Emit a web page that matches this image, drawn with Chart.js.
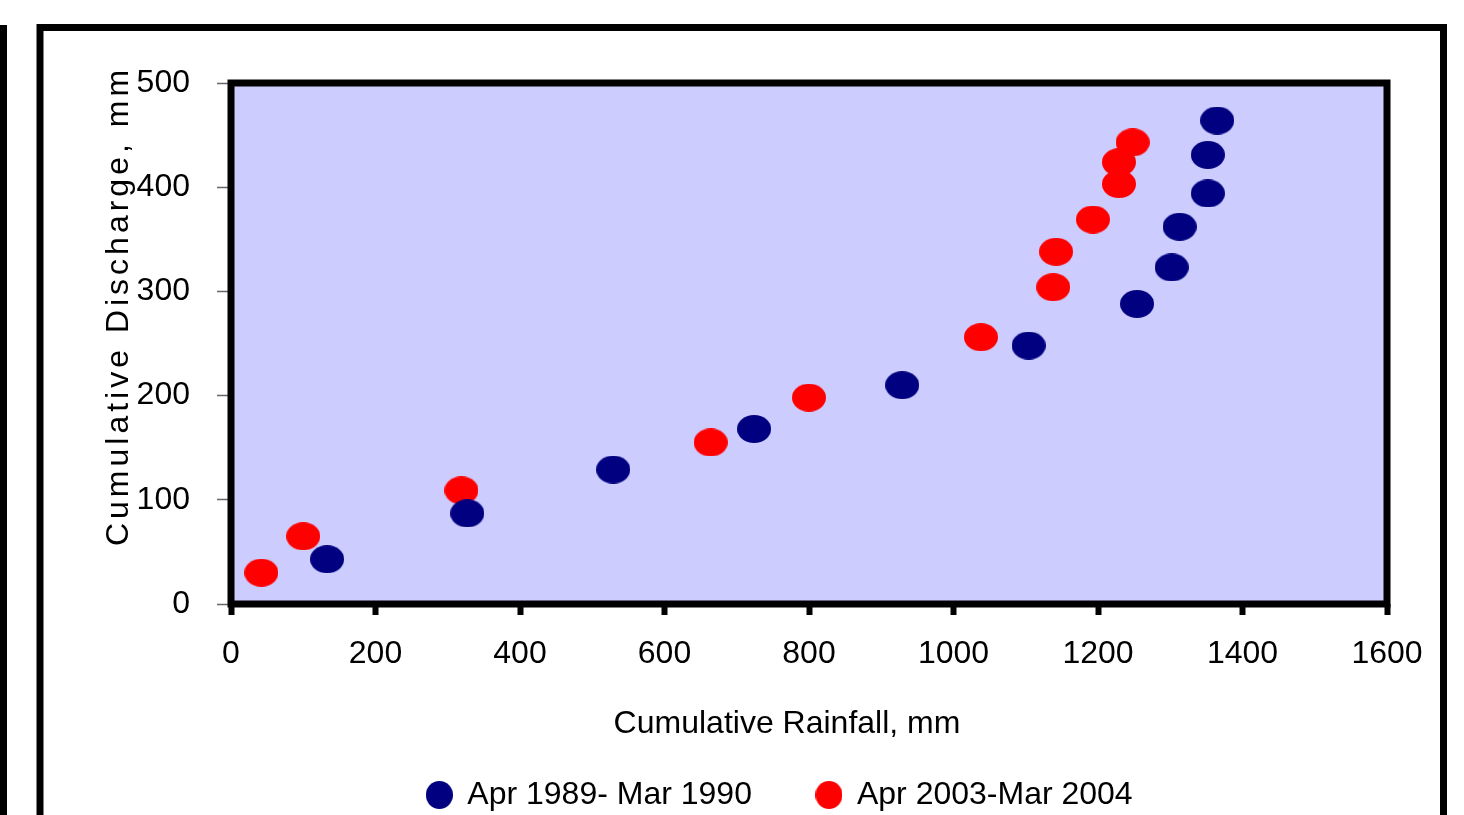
<!DOCTYPE html>
<html>
<head>
<meta charset="utf-8">
<script src="https://cdn.jsdelivr.net/npm/chart.js"></script>
<style>
  html, body { margin: 0; padding: 0; background: #fff; }
  #wrap { width: 1464px; height: 815px; }
</style>
</head>
<body>
<div id="wrap"><canvas id="rainChart" width="1464" height="815"></canvas></div>
<script>
    // values
    const seriesNames = ['Apr 1989- Mar 1990', 'Apr 2003-Mar 2004'];
    const rain1989 = [133, 327, 529, 724, 929, 1104, 1254, 1302, 1313, 1352, 1352, 1365];
    const flow1989 = [43, 87, 129, 168, 210, 248, 288, 323, 362, 394, 431, 464];
    const rain2003 = [42, 100, 319, 664, 800, 1038, 1138, 1142, 1193, 1229, 1229, 1248];
    const flow2003 = [30, 65, 109, 155, 198, 256, 304, 338, 369, 403, 424, 443];
    const xTitle = 'Cumulative Rainfall, mm';
    const yTitle = 'Cumulative Discharge, mm';

    const NAVY = '#000080';
    const RED = '#ff0000';
    const FONT = '"Liberation Sans", Arial, sans-serif';

    function ellipse(color, w, h) {
        let c = document.createElement('canvas');
        c.width = w;
        c.height = h;
        let g = c.getContext('2d');
        g.fillStyle = color;
        g.beginPath();
        g.ellipse(w / 2, h / 2, w / 2, h / 2, 0, 0, Math.PI * 2);
        g.fill();
        return c;
    }

    const dotNavy = ellipse(NAVY, 34, 28);
    const dotRed = ellipse(RED, 34, 28);
    const keyNavy = ellipse(NAVY, 27, 28);
    const keyRed = ellipse(RED, 27, 28);

    function toPoints(xs, ys) {
        return xs.map((x, i) => ({ x: x, y: ys[i] }));
    }

    // page frames, plot background, box border and the two axis titles
    const decor = {
        id: 'decor',
        beforeDraw(chart) {
            let ctx = chart.ctx;
            let a = chart.chartArea;
            ctx.save();
            ctx.fillStyle = '#000';
            ctx.fillRect(0, 25, 7, 800);
            ctx.lineWidth = 7;
            ctx.strokeStyle = '#000';
            ctx.strokeRect(40, 27.5, 1403.5, 900);
            ctx.fillStyle = '#ccccff';
            ctx.fillRect(a.left, a.top, a.right - a.left, a.bottom - a.top);
            ctx.restore();
        },
        afterDraw(chart) {
            let ctx = chart.ctx;
            let a = chart.chartArea;
            ctx.save();
            ctx.lineWidth = 7;
            ctx.strokeStyle = '#000';
            ctx.strokeRect(a.left, a.top, a.right - a.left, a.bottom - a.top);

            ctx.fillStyle = '#000';
            ctx.font = '32px ' + FONT;
            ctx.textAlign = 'center';
            ctx.textBaseline = 'middle';
            ctx.fillText(xTitle, 787, 724);

            ctx.translate(119, 306);
            ctx.rotate(-Math.PI / 2);
            ctx.letterSpacing = '4px';
            ctx.fillText(yTitle, 0, 0);
            ctx.restore();
        }
    };

    const config = {
        type: 'scatter',
        data: {
            datasets: [{
                label: seriesNames[0],
                data: toPoints(rain1989, flow1989),
                pointStyle: dotNavy,
                backgroundColor: NAVY,
                borderColor: NAVY
            },
            {
                label: seriesNames[1],
                data: toPoints(rain2003, flow2003),
                pointStyle: dotRed,
                backgroundColor: RED,
                borderColor: RED
            }]
        },
        options: {
            responsive: false,
            animation: false,
            events: [],
            layout: {
                padding: { left: 131, right: 35, top: 83, bottom: 0 }
            },
            scales: {
                x: {
                    type: 'linear',
                    min: 0,
                    max: 1600,
                    ticks: {
                        stepSize: 200,
                        padding: 20,
                        color: '#000',
                        font: { family: FONT, size: 32 },
                        callback: (v) => String(v)
                    },
                    grid: {
                        drawOnChartArea: false,
                        tickLength: 11,
                        tickWidth: 6,
                        tickColor: '#000'
                    },
                    border: { display: false },
                    afterFit: (scale) => { scale.height = 110; }
                },
                y: {
                    type: 'linear',
                    min: 0,
                    max: 500,
                    ticks: {
                        stepSize: 100,
                        padding: 27,
                        color: '#000',
                        font: { family: FONT, size: 32 }
                    },
                    grid: {
                        drawOnChartArea: false,
                        tickLength: 14,
                        tickWidth: 1.5,
                        tickColor: '#666'
                    },
                    border: { display: false },
                    afterFit: (scale) => { scale.width = 100; }
                },
                // empty strip on the right so the plot box ends where it should
                yPad: {
                    type: 'linear',
                    position: 'right',
                    min: 0,
                    max: 500,
                    ticks: { display: false },
                    grid: { display: false },
                    border: { display: false },
                    afterFit: (scale) => { scale.width = 42; }
                }
            },
            plugins: {
                tooltip: { enabled: false },
                legend: {
                    position: 'bottom',
                    maxHeight: 101,
                    labels: {
                        usePointStyle: true,
                        boxWidth: 24,
                        padding: 65,
                        color: '#000',
                        font: { family: FONT, size: 32 },
                        generateLabels: (chart) => {
                            let items = Chart.defaults.plugins.legend.labels.generateLabels(chart);
                            items[0].pointStyle = keyNavy;
                            items[1].pointStyle = keyRed;
                            return items;
                        }
                    }
                }
            }
        },
        plugins: [decor]
    };

    new Chart(document.getElementById('rainChart'), config);
</script>
</body>
</html>
